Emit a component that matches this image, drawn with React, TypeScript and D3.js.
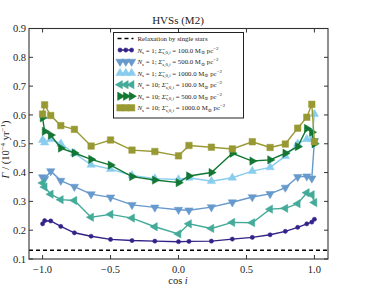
import React from "react";
import * as d3 from "d3";

// cos i sample positions shared by every series
const cosI = [-1.0, -0.985, -0.94, -0.866, -0.766, -0.643, -0.5, -0.342, -0.174, 0.0, 0.077, 0.242, 0.396, 0.543, 0.674, 0.786, 0.877, 0.944, 0.981, 1.0];

const n1s100 = [0.222, 0.233, 0.232, 0.213, 0.191, 0.179, 0.168, 0.164, 0.162, 0.16, 0.161, 0.162, 0.169, 0.175, 0.184, 0.196, 0.21, 0.222, 0.228, 0.238];
const n1s500 = [0.384, 0.378, 0.405, 0.372, 0.351, 0.325, 0.314, 0.288, 0.279, 0.271, 0.269, 0.28, 0.297, 0.315, 0.326, 0.348, 0.385, 0.387, 0.38, 0.51];
const n1s1000 = [0.513, 0.504, 0.516, 0.5, 0.467, 0.427, 0.412, 0.39, 0.379, 0.376, 0.382, 0.37, 0.382, 0.405, 0.418, 0.457, 0.5, 0.516, 0.516, 0.603];
const n10s100 = [0.364, 0.35, 0.325, 0.306, 0.303, 0.245, 0.255, 0.242, 0.212, 0.187, 0.222, 0.206, 0.227, 0.226, 0.273, 0.276, 0.292, 0.33, 0.323, 0.296];
const n10s500 = [0.59, 0.543, 0.53, 0.485, 0.468, 0.446, 0.426, 0.386, 0.374, 0.365, 0.388, 0.4, 0.467, 0.44, 0.444, 0.467, 0.49, 0.553, 0.54, 0.5];
const n10s1000 = [0.603, 0.635, 0.598, 0.563, 0.55, 0.492, 0.513, 0.478, 0.473, 0.458, 0.494, 0.488, 0.482, 0.507, 0.487, 0.499, 0.554, 0.592, 0.637, 0.507];

const singleStarRate = 0.13;

const xTicks = [-1.0, -0.5, 0.0, 0.5, 1.0];
const yTicks = [0.1, 0.2, 0.3, 0.4, 0.5, 0.6, 0.7, 0.8, 0.9];

const seriesInfo = [
  { ns: "1", sigma: "100.0", values: n1s100, color: "#332288", marker: "circle" },
  { ns: "1", sigma: "500.0", values: n1s500, color: "#6699CC", marker: "down" },
  { ns: "1", sigma: "1000.0", values: n1s1000, color: "#88CCEE", marker: "up" },
  { ns: "10", sigma: "100.0", values: n10s100, color: "#44AA99", marker: "left" },
  { ns: "10", sigma: "500.0", values: n10s500, color: "#117733", marker: "right" },
  { ns: "10", sigma: "1000.0", values: n10s1000, color: "#999933", marker: "square" },
];

const W = 366;
const H = 288;
const FONT = "'Liberation Serif', 'DejaVu Serif', serif";

const x = d3.scaleLinear().domain([-1.1, 1.1]).range([29, 328]);
const y = d3.scaleLinear().domain([0.1, 0.9]).range([259, 28.5]);

const markerPath = (kind: string) => {
  if (kind === "circle") return d3.symbol(d3.symbolCircle, 14)()!;
  if (kind === "square") return d3.symbol(d3.symbolSquare, 42)()!;
  return d3.symbol(d3.symbolTriangle, 30)()!;
};
const markerRot = (kind: string) =>
  kind === "down" ? 180 : kind === "left" ? -90 : kind === "right" ? 90 : 0;

const Marker = ({ kind, color, cx, cy }: any) => (
  <path
    d={markerPath(kind)}
    transform={`translate(${cx},${cy}) rotate(${markerRot(kind)})`}
    fill={color}
    stroke={color}
    strokeWidth={0.5}
  />
);

const fmt = (v: number) => v.toFixed(1).replace("-", "\u2212");

export default function App() {
  const line = d3
    .line<number>()
    .x((_, i) => x(cosI[i]))
    .y((d) => y(d));

  const legendX = 113.5;
  const legendY = 32.5;
  const rowH = 11.55;

  return (
    <svg
      width={W}
      height={H}
      style={{ position: "absolute", left: 0, top: 0, background: "#fff" }}
      fontFamily={FONT}
    >
      <rect x={0} y={0} width={W} height={H} fill="#fff" />

      {/* reference level */}
      <line
        x1={x(-1.1)}
        x2={x(1.1)}
        y1={y(singleStarRate)}
        y2={y(singleStarRate)}
        stroke="#000"
        strokeWidth={1.5}
        strokeDasharray="4,3"
      />

      {seriesInfo.map((s, k) => (
        <g key={k}>
          <path d={line(s.values)!} fill="none" stroke={s.color} strokeWidth={1.4} />
          {s.values.map((v, i) => (
            <Marker key={i} kind={s.marker} color={s.color} cx={x(cosI[i])} cy={y(v)} />
          ))}
        </g>
      ))}

      {/* frame */}
      <rect x={x(-1.1)} y={y(0.9)} width={x(1.1) - x(-1.1)} height={y(0.1) - y(0.9)} fill="none" stroke="#333" strokeWidth={1.1} />

      {xTicks.map((t) => (
        <g key={t}>
          <line x1={x(t)} x2={x(t)} y1={y(0.1)} y2={y(0.1) - 4} stroke="#333" />
          <line x1={x(t)} x2={x(t)} y1={y(0.9)} y2={y(0.9) + 4} stroke="#333" />
          <text x={x(t)} y={y(0.1) + 14} textAnchor="middle" fontSize={10.5} fill="#222">
            {fmt(t)}
          </text>
        </g>
      ))}
      {yTicks.map((t) => (
        <g key={t}>
          <line x1={x(-1.1)} x2={x(-1.1) + 4} y1={y(t)} y2={y(t)} stroke="#333" />
          <line x1={x(1.1)} x2={x(1.1) - 4} y1={y(t)} y2={y(t)} stroke="#333" />
          <text x={26} y={y(t) + 3.7} textAnchor="end" fontSize={10.5} fill="#222">
            {fmt(t)}
          </text>
        </g>
      ))}

      <text x={178} y={24} textAnchor="middle" fontSize={11} fill="#222">
        HVSs (M2)
      </text>
      <text x={178} y={284} textAnchor="middle" fontSize={10.5} fill="#222">
        cos <tspan fontStyle="italic">i</tspan>
      </text>
      <text
        transform={`translate(9,${y(0.48)}) rotate(-90)`}
        textAnchor="middle"
        fontSize={10.5}
        fill="#222"
      >
        <tspan fontStyle="italic">Γ</tspan> / (10<tspan dy={-4} fontSize={7}>−4</tspan>
        <tspan dy={4}> yr</tspan>
        <tspan dy={-4} fontSize={7}>−1</tspan>
        <tspan dy={4}>)</tspan>
      </text>

      {/* legend */}
      <rect x={legendX} y={legendY} width={130} height={85.5} fill="#fff" stroke="#222" strokeWidth={1} />
      <line x1={legendX + 4} x2={legendX + 20} y1={legendY + 6} y2={legendY + 6} stroke="#000" strokeWidth={1.5} strokeDasharray="4,3" />
      <text x={legendX + 24} y={legendY + 8.5} fontSize={6.8} fill="#222">
        Relaxation by single stars
      </text>
      {seriesInfo.map((s, k) => {
        const ry = legendY + 6 + rowH * (k + 1);
        return (
          <g key={k}>
            <line x1={legendX + 6} x2={legendX + 18} y1={ry} y2={ry} stroke={s.color} strokeWidth={1.4} />
            {[0, 1, 2].map((j) => (
              <Marker key={j} kind={s.marker} color={s.color} cx={legendX + 6.5 + j * 5.8} cy={ry} />
            ))}
            <text x={legendX + 24} y={ry + 2.5} fontSize={6.8} fill="#222">
              <tspan fontStyle="italic">N</tspan>
              <tspan fontSize={5} dy={1.5}>s</tspan>
              <tspan dy={-1.5}> = {s.ns}; </tspan>
              <tspan fontStyle="italic">Σ̃</tspan>
              <tspan fontSize={5} dy={1.5}>s,0,</tspan>
              <tspan fontSize={5} fontStyle="italic">i</tspan>
              <tspan dy={-1.5}> = {s.sigma} M</tspan>
              <tspan fontSize={5} dy={1.5}>⊙</tspan>
              <tspan dy={-1.5}> pc</tspan>
              <tspan fontSize={5} dy={-3}>−2</tspan>
            </text>
          </g>
        );
      })}
    </svg>
  );
}
